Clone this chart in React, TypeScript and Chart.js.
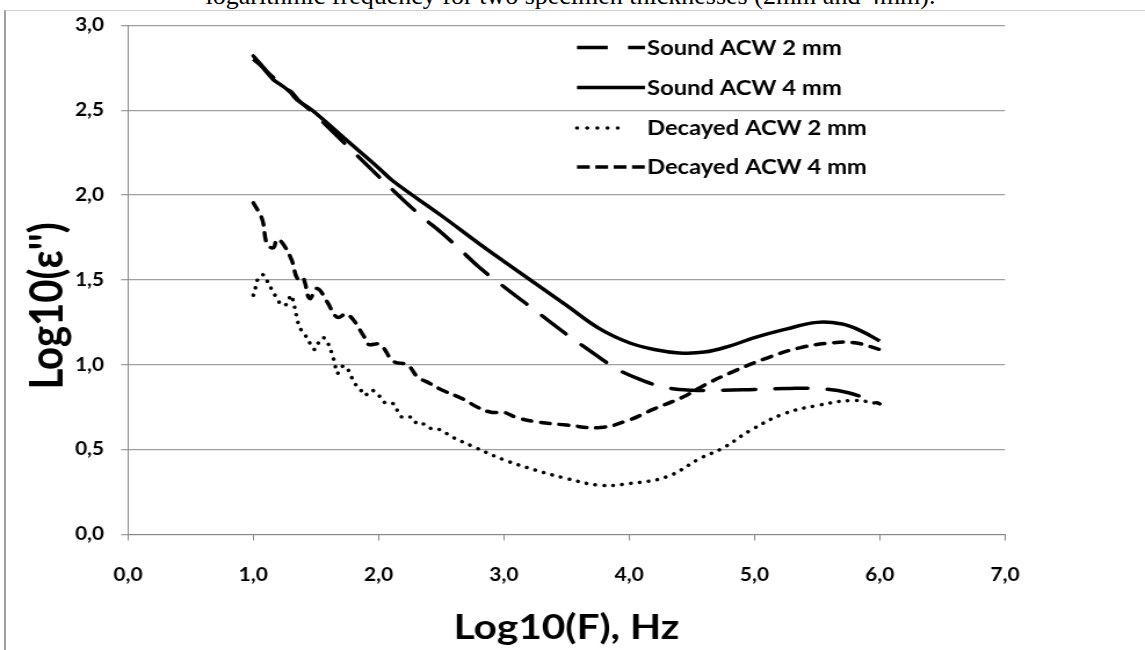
import React, { useEffect, useRef } from "react";
import { Chart, registerables } from "chart.js";

Chart.register(...registerables);

// ---------- data ----------
const seriesNames = ["Sound ACW 2 mm", "Sound ACW 4 mm", "Decayed ACW 2 mm", "Decayed ACW 4 mm"];

const sound2X = [1.0, 1.06, 1.12, 1.18, 1.25, 1.3, 1.36, 1.47, 1.75, 2.0, 2.17, 2.35, 2.5, 2.65, 2.81, 3.0, 3.25, 3.5, 3.77, 3.9, 4.1, 4.3, 4.5, 4.75, 5.0, 5.25, 5.5, 5.75, 6.0];
const sound2Y = [2.82, 2.77, 2.72, 2.68, 2.63, 2.61, 2.56, 2.49, 2.29, 2.11, 1.99, 1.87, 1.78, 1.68, 1.57, 1.46, 1.32, 1.18, 1.04, 0.975, 0.91, 0.865, 0.85, 0.85, 0.855, 0.86, 0.86, 0.835, 0.77];

const sound4X = [1.0, 1.05, 1.1, 1.16, 1.22, 1.29, 1.35, 1.47, 1.75, 2.0, 2.12, 2.5, 2.81, 3.0, 3.25, 3.5, 3.77, 4.0, 4.2, 4.4, 4.6, 4.8, 5.0, 5.25, 5.5, 5.7, 5.85, 6.0];
const sound4Y = [2.8, 2.77, 2.73, 2.68, 2.65, 2.61, 2.56, 2.5, 2.32, 2.16, 2.08, 1.88, 1.71, 1.61, 1.48, 1.35, 1.21, 1.13, 1.09, 1.07, 1.075, 1.11, 1.16, 1.21, 1.25, 1.24, 1.2, 1.14];

const decayed2X = [1.0, 1.02, 1.04, 1.08, 1.12, 1.15, 1.19, 1.23, 1.27, 1.3, 1.32, 1.35, 1.37, 1.41, 1.45, 1.49, 1.52, 1.56, 1.6, 1.63, 1.65, 1.67, 1.71, 1.74, 1.77, 1.81, 1.85, 1.89, 1.94, 1.99, 2.03, 2.07, 2.12, 2.15, 2.19, 2.27, 2.31, 2.37, 2.43, 2.48, 2.6, 2.75, 3.0, 3.25, 3.5, 3.77, 4.0, 4.3, 4.57, 4.75, 4.96, 5.23, 5.5, 5.79, 6.0];
const decayed2Y = [1.41, 1.46, 1.51, 1.53, 1.48, 1.44, 1.39, 1.35, 1.36, 1.41, 1.37, 1.27, 1.22, 1.18, 1.13, 1.09, 1.13, 1.16, 1.12, 1.06, 1.01, 0.95, 0.99, 0.99, 0.95, 0.89, 0.86, 0.82, 0.85, 0.83, 0.79, 0.77, 0.77, 0.73, 0.69, 0.69, 0.65, 0.65, 0.62, 0.62, 0.57, 0.52, 0.44, 0.38, 0.33, 0.29, 0.3, 0.34, 0.45, 0.51, 0.61, 0.71, 0.76, 0.79, 0.77];

const decayed4X = [1.0, 1.07, 1.11, 1.16, 1.19, 1.24, 1.31, 1.35, 1.39, 1.41, 1.45, 1.51, 1.59, 1.67, 1.75, 1.89, 1.92, 2.01, 2.12, 2.23, 2.31, 2.41, 2.51, 2.67, 2.79, 2.9, 3.0, 3.1, 3.25, 3.5, 3.77, 4.0, 4.2, 4.43, 4.6, 4.83, 5.1, 5.36, 5.63, 5.8, 6.0];
const decayed4Y = [1.955, 1.86, 1.71, 1.69, 1.74, 1.71, 1.61, 1.51, 1.52, 1.49, 1.39, 1.45, 1.37, 1.28, 1.3, 1.16, 1.12, 1.12, 1.02, 1.0, 0.93, 0.89, 0.85, 0.8, 0.75, 0.72, 0.72, 0.69, 0.665, 0.645, 0.63, 0.675, 0.74, 0.81, 0.88, 0.96, 1.04, 1.1, 1.13, 1.13, 1.09];

const xMin = 0, xMax = 7, xStep = 1;
const yMin = 0, yMax = 3, yStep = 0.5;
const xTitle = "Log10(F), Hz";
const yTitle = "Log10(ε'')";
const caption = "logarithmic frequency for two specimen thicknesses (2mm and 4mm).";

// ---------- layout ----------
const W = 1145;
const H = 650;
const IW = 987; // internal canvas width, stretched horizontally to W
const S = W / IW;
const FONT = "Lato, 'Open Sans', sans-serif";
const LW = 3.5;

const fmt = (v: number) => Number(v).toFixed(1).replace(".", ",");

const lineDashes = [[28, 17], [], [0.1, 7.6], [8, 8]];
const legendDashes = [[26.5, 17.5], [], [0.1, 8.65], [11, 4.8]];
const legendCaps = ["butt", "butt", "round", "butt"];
const legendLens = [58.6, 58.6, 43.6, 58.6];

const legendPlugin = {
  id: "inlineLegend",
  afterDraw(chart: any) {
    const ctx = chart.ctx;
    const x0 = 577 / S;
    const tx = 647 / S;
    const rows = [47.5, 87.5, 128, 167];
    ctx.save();
    chart.data.datasets.forEach((ds: any, i: number) => {
      const y = rows[i];
      ctx.beginPath();
      ctx.strokeStyle = "#000";
      ctx.lineWidth = LW;
      ctx.lineCap = legendCaps[i];
      ctx.setLineDash(legendDashes[i]);
      ctx.moveTo(x0, y);
      ctx.lineTo(x0 + legendLens[i], y);
      ctx.stroke();
      ctx.setLineDash([]);
      ctx.fillStyle = "#000";
      ctx.font = `bold 20.5px ${FONT}`;
      ctx.textBaseline = "middle";
      ctx.textAlign = "left";
      ctx.fillText(ds.label, tx, y + 0.5);
    });
    // y axis title
    ctx.translate(41, 306);
    ctx.rotate(-Math.PI / 2);
    ctx.font = `bold 40px ${FONT}`;
    ctx.textAlign = "center";
    ctx.textBaseline = "middle";
    ctx.fillText(yTitle, 0, 0);
    ctx.restore();
  },
};

function makeDataset(i: number, xs: number[], ys: number[]) {
  return {
    label: seriesNames[i],
    data: xs.map((x, k) => ({ x, y: ys[k] })),
    borderColor: "#000",
    backgroundColor: "#000",
    borderWidth: LW,
    borderDash: lineDashes[i],
    borderCapStyle: i === 1 ? "butt" : "round",
    pointRadius: 0,
    tension: 0.4,
    fill: false,
  };
}

export default function App() {
  const ref = useRef<HTMLCanvasElement | null>(null);

  useEffect(() => {
    document.body.style.margin = "0";
    const canvas = ref.current!;
    const chart = new Chart(canvas, {
      type: "line",
      data: {
        datasets: [
          makeDataset(0, sound2X, sound2Y),
          makeDataset(1, sound4X, sound4Y),
          makeDataset(2, decayed2X, decayed2Y),
          makeDataset(3, decayed4X, decayed4Y),
        ] as any,
      },
      options: {
        responsive: false,
        animation: false,
        devicePixelRatio: 1,
        layout: { padding: { left: 0, right: IW - 1005 / S, top: 22.7, bottom: 0 } },
        plugins: { legend: { display: false }, tooltip: { enabled: false } },
        scales: {
          x: {
            type: "linear",
            min: xMin,
            max: xMax,
            ticks: {
              stepSize: xStep,
              callback: (v: any) => fmt(v),
              color: "#000",
              font: { family: FONT, weight: "bold", size: 18 },
              padding: 24,
              maxRotation: 0,
            },
            grid: { display: true, drawOnChartArea: false, drawTicks: true, tickLength: 6, color: "#888" },
            border: { display: true, color: "#888", width: 1 },
            title: {
              display: true,
              text: xTitle,
              color: "#000",
              font: { family: FONT, weight: "bold", size: 35 },
              padding: { top: 0, bottom: 1 },
            },
            afterFit: (s: any) => {
              s.height = H - 534.5;
            },
          },
          y: {
            type: "linear",
            min: yMin,
            max: yMax,
            ticks: {
              stepSize: yStep,
              callback: (v: any) => fmt(v),
              color: "#000",
              font: { family: FONT, weight: "bold", size: 18 },
              padding: 14.6,
            },
            grid: { color: "#a0a0a0", lineWidth: 1.3, tickLength: 6 },
            border: { display: true, color: "#888", width: 1 },
            afterFit: (s: any) => {
              s.width = 128 / S;
            },
          },
        },
      } as any,
      plugins: [legendPlugin],
    });
    return () => chart.destroy();
  }, []);

  return (
    <div style={{ position: "absolute", left: 0, top: 0, width: W, height: H, overflow: "hidden", background: "#fff" }}>
      <div
        style={{
          position: "absolute",
          left: 0,
          top: -16.8,
          width: W - 4,
          textAlign: "center",
          fontFamily: "'Liberation Serif', 'Times New Roman', serif",
          fontSize: 26,
          lineHeight: "26px",
          whiteSpace: "nowrap",
          color: "#000",
        }}
      >
        {caption}
      </div>
      <div
        style={{
          position: "absolute",
          left: 4,
          top: 10,
          width: W,
          height: H,
          borderLeft: "2px solid #a0a0a0",
          borderTop: "1px solid #d0d0d0",
        }}
      />
      <div
        style={{
          position: "absolute",
          left: 0,
          top: 0,
          width: IW,
          height: H,
          transform: `scaleX(${S})`,
          transformOrigin: "0 0",
        }}
      >
        <canvas ref={ref} width={IW} height={H} style={{ display: "block" }} />
      </div>
    </div>
  );
}
